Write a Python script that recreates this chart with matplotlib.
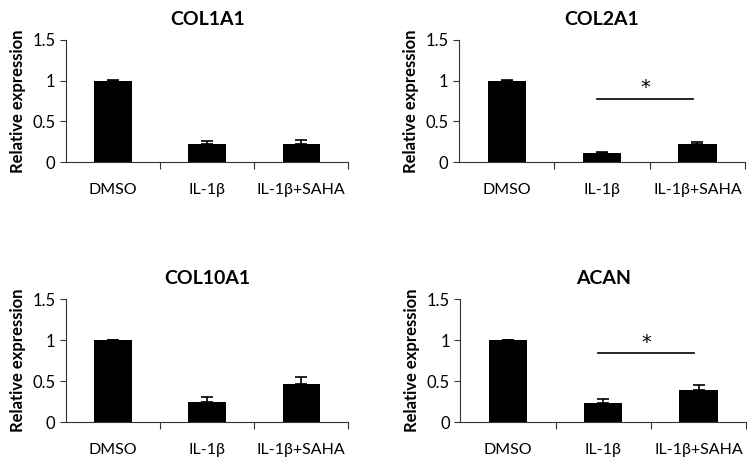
import matplotlib.pyplot as plt
import numpy as np

plt.rcParams['font.family'] = ['Lato', 'DejaVu Sans']

groups = ["DMSO", "IL-1β", "IL-1β+SAHA"]
genes = ["COL1A1", "COL2A1", "COL10A1", "ACAN"]

col1a1 = [1.0, 0.22, 0.22]
col1a1_err = [0.005, 0.04, 0.055]
col2a1 = [1.0, 0.105, 0.22]
col2a1_err = [0.005, 0.02, 0.03]
col10a1 = [1.0, 0.245, 0.47]
col10a1_err = [0.005, 0.065, 0.08]
acan = [1.0, 0.23, 0.39]
acan_err = [0.005, 0.05, 0.06]

values = [col1a1, col2a1, col10a1, acan]
errors = [col1a1_err, col2a1_err, col10a1_err, acan_err]
# height of the significance bar between IL-1β and IL-1β+SAHA
signif = [None, 0.78, None, 0.84]

fig = plt.figure(figsize=(7.47, 4.59), dpi=100)
positions = [
    [0.0884, 0.647, 0.378, 0.266],
    [0.6145, 0.647, 0.383, 0.266],
    [0.0884, 0.0806, 0.378, 0.267],
    [0.616, 0.0806, 0.383, 0.267],
]

for pos, gene, vals, errs, sig in zip(positions, genes, values, errors, signif):
    ax = fig.add_axes(pos)
    x = np.arange(len(groups))
    ax.bar(x, vals, width=0.4, color="black", zorder=2)
    ax.errorbar(x, vals, yerr=[np.zeros(len(errs)), errs], fmt="none",
                ecolor="black", elinewidth=1.2, capsize=4, capthick=1.2, zorder=3)
    ax.set_xlim(-0.5, 2.5)
    ax.set_ylim(0, 1.5)
    ax.set_yticks([0, 0.5, 1, 1.5])
    ax.set_yticklabels(["0", "0.5", "1", "1.5"])
    ax.set_xticks([0.5, 1.5, 2.5])
    ax.set_xticklabels([])
    ax.set_xticks(x, minor=True)
    ax.set_xticklabels(groups, minor=True)
    ax.tick_params(axis="x", which="minor", length=0, pad=15, labelsize=11.5)
    ax.tick_params(axis="x", which="major", length=5, direction="out", color="#333333")
    ax.tick_params(axis="y", length=4, direction="out", labelsize=12, color="#333333")
    for s in ["top", "right"]:
        ax.spines[s].set_visible(False)
    for s in ["left", "bottom"]:
        ax.spines[s].set_color("#333333")
    ax.set_ylabel("Relative expression", fontsize=12, fontweight="bold", labelpad=5)
    ax.set_title(gene, fontsize=14, fontweight="bold", pad=11)
    if sig is not None:
        ax.plot([1 - 0.05, 2 - 0.05], [sig, sig], color="black", lw=1.2)
        ax.text(1.45, sig + 0.02, "*", ha="center", va="bottom", fontsize=14,
                family="DejaVu Sans")

fig.savefig("out.png", dpi=100)
